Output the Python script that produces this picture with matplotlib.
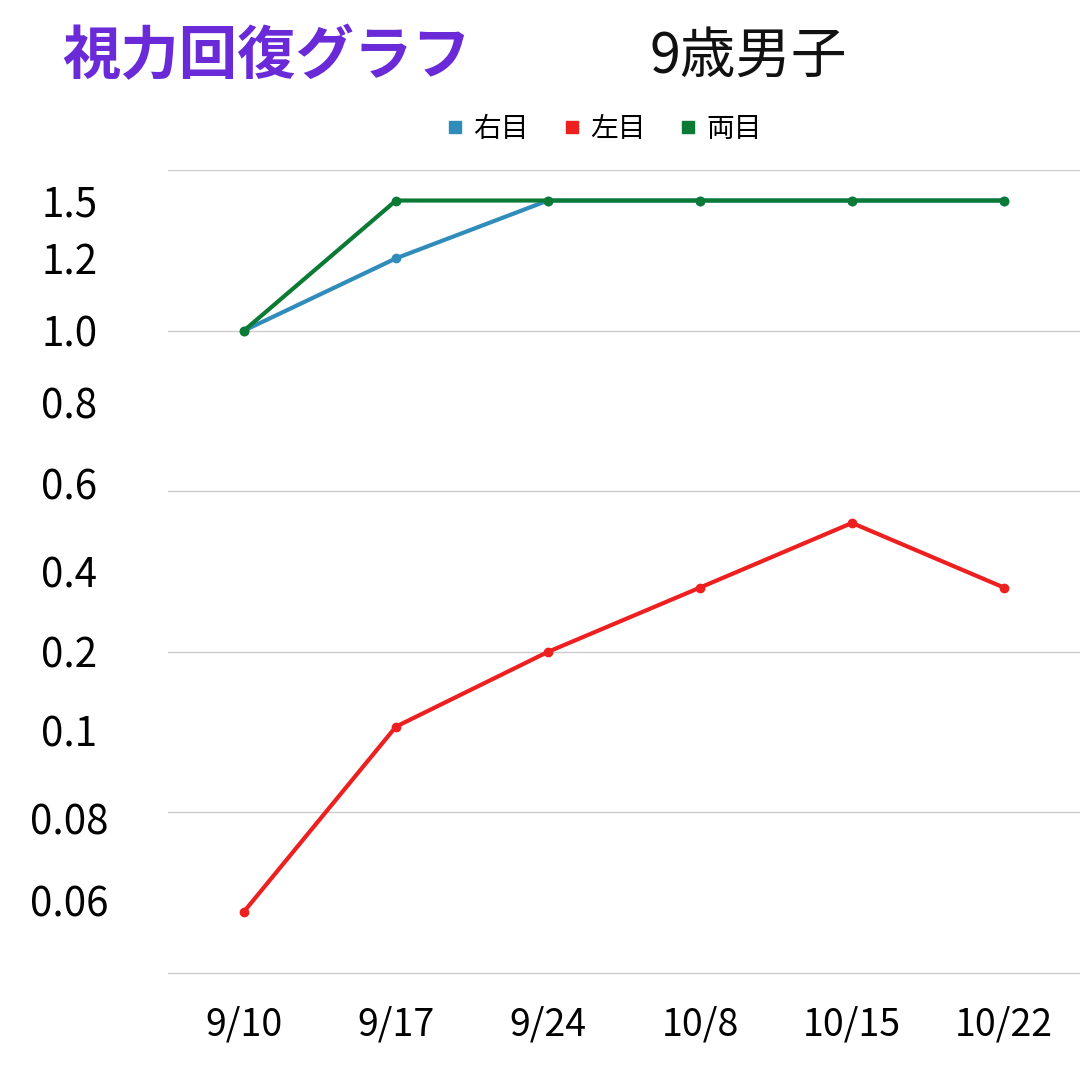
import numpy as np
import matplotlib.pyplot as plt

plt.rcParams['font.family'] = ['Noto Sans CJK JP', 'DejaVu Sans']

dates = ['9/10', '9/17', '9/24', '10/8', '10/15', '10/22']
right_eye = [1.0, 1.2, 1.5, 1.5, 1.5, 1.5]
left_eye = [0.057, 0.105, 0.2, 0.36, 0.51, 0.36]
both_eyes = [1.0, 1.5, 1.5, 1.5, 1.5, 1.5]

# visual acuity is drawn on a stepped scale: tick value -> axis position
tick_values = [0.04, 0.06, 0.08, 0.1, 0.2, 0.4, 0.6, 0.8, 1.0, 1.2, 1.5]
tick_pos = [0.0, 0.45, 0.96, 1.51, 2.0, 2.5, 3.05, 3.55, 4.0, 4.45, 4.81]
tick_labels = ['0.06', '0.08', '0.1', '0.2', '0.4', '0.6', '0.8', '1.0', '1.2', '1.5']


def to_pos(v):
    return np.interp(v, tick_values, tick_pos)


fig = plt.figure(figsize=(10.8, 10.8), dpi=100)
ax = fig.add_axes([168 / 1080, 1 - 975 / 1080, 912 / 1080, 805 / 1080])
x = np.arange(len(dates))

series = [('右目', right_eye, '#2f8cbb'), ('左目', left_eye, '#ee1f1f'),
          ('両目', both_eyes, '#0b7a35')]
for name, vals, col in series:
    ax.plot(x, to_pos(vals), color=col, lw=3, marker='o', ms=6, label=name)

ax.set_xlim(-0.5, 5.5)
ax.set_ylim(-0.012, 5)
for g in range(6):
    ax.axhline(g, color='#cccccc', lw=1, zorder=0)
for s in ax.spines.values():
    s.set_visible(False)
ax.set_xticks(x)
ax.set_xticklabels(dates, fontsize=27)
ax.set_yticks(tick_pos[1:])
ax.set_yticklabels(tick_labels, fontsize=29, ha='center')
ax.tick_params(length=0)
ax.tick_params(axis='x', pad=22)
ax.tick_params(axis='y', pad=71)

fig.text(62 / 1080, 1 - 57 / 1080, '視力回復グラフ', fontsize=42, fontweight='bold',
         color='#6a2ad8', va='center')
fig.text(650 / 1080, 1 - 57 / 1080, '9歳男子', fontsize=40, color='#111111', va='center')

leg = fig.legend(loc='center', bbox_to_anchor=(605 / 1080, 1 - 129 / 1080), ncol=3,
                 frameon=False, fontsize=20, handlelength=0.5, handletextpad=0.4,
                 columnspacing=1.3, markerscale=0)
for h, (_, _, col) in zip(leg.legend_handles, series):
    h.set_marker('s')
    h.set_markersize(9)
    h.set_linestyle('none')
    h.set_color(col)

fig.savefig('out.png', dpi=100)
